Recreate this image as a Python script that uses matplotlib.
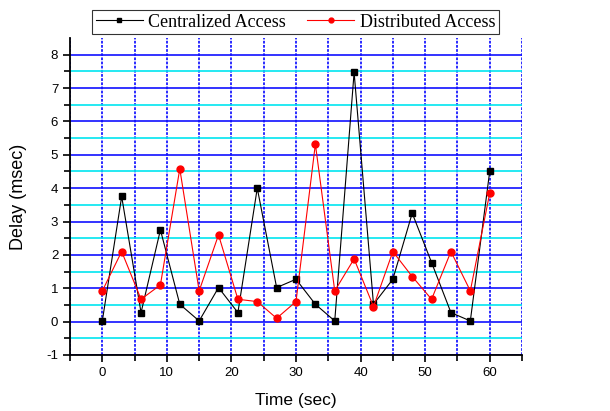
import matplotlib
matplotlib.use("Agg")
import matplotlib.pyplot as plt
from matplotlib.ticker import MultipleLocator, FixedLocator

plt.rcParams["font.family"] = ["Liberation Sans", "DejaVu Sans"]
plt.rcParams["axes.unicode_minus"] = False

# sample times (sec)
time = [0, 3, 6, 9, 12, 15, 18, 21, 24, 27, 30, 33, 36, 39, 42, 45, 48, 51, 54, 57, 60]

# delay values (msec)
centralized = [0.02, 3.75, 0.27, 2.75, 0.52, 0.02, 1.02, 0.27, 4.0, 1.02, 1.27,
               0.52, 0.02, 7.47, 0.52, 1.27, 3.25, 1.77, 0.27, 0.02, 4.5]
distributed = [0.92, 2.1, 0.67, 1.1, 4.58, 0.92, 2.6, 0.67, 0.6, 0.1, 0.6,
               5.32, 0.92, 1.88, 0.45, 2.1, 1.35, 0.67, 2.1, 0.92, 3.85]

fig = plt.figure(figsize=(6.10, 4.11), dpi=100)
ax = fig.add_axes([0.1148, 0.1363, 0.8557 - 0.1148, 0.9075 - 0.1363])

ax.set_xlim(-5, 65)
ax.set_ylim(-1, 8.5)
ax.xaxis.set_major_locator(MultipleLocator(10))
ax.xaxis.set_minor_locator(MultipleLocator(5))
ax.yaxis.set_major_locator(MultipleLocator(1))
# minor ticks at the halves, none on the top edge
ax.yaxis.set_minor_locator(FixedLocator([-0.5, 0.5, 1.5, 2.5, 3.5, 4.5, 5.5, 6.5, 7.5]))

# grid
ax.set_axisbelow(True)
ax.grid(which="major", axis="y", color="#1010ff", lw=1.2, ls="-")
ax.grid(which="minor", axis="y", color="#00e5f0", lw=1.2, ls="-")
ax.grid(which="both", axis="x", color="#1a1aff", lw=1.3, ls=(0, (1.5, 0.8)))

ax.plot(time, centralized, color="black", lw=0.8, marker="s", ms=5,
        mfc="black", mec="black", label="Centralized Access", zorder=3)
ax.plot(time, distributed, color="red", lw=0.8, marker="o", ms=5,
        mfc="red", mec="red", label="Distributed Access", zorder=3)

for s in ["top", "right"]:
    ax.spines[s].set_visible(False)
for s in ["left", "bottom"]:
    ax.spines[s].set_linewidth(1.3)

ax.tick_params(which="both", direction="out", width=1.2, labelsize=9.5)
ax.tick_params(which="major", length=5)
ax.tick_params(which="minor", length=4)

ax.set_xlabel("Time (sec)", fontsize=12.5, labelpad=10)
ax.set_ylabel("Delay (msec)", fontsize=13, labelpad=14)

leg = fig.legend(loc="center", bbox_to_anchor=(0.4844, 0.946), ncol=2,
                 prop={"family": "Liberation Serif", "size": 13},
                 frameon=True, fancybox=False, edgecolor="black",
                 handlelength=2.6, handletextpad=0.3, columnspacing=1.2,
                 borderpad=0.2, markerscale=0.7)
leg.get_frame().set_linewidth(0.8)

fig.savefig("out.png", dpi=100)
